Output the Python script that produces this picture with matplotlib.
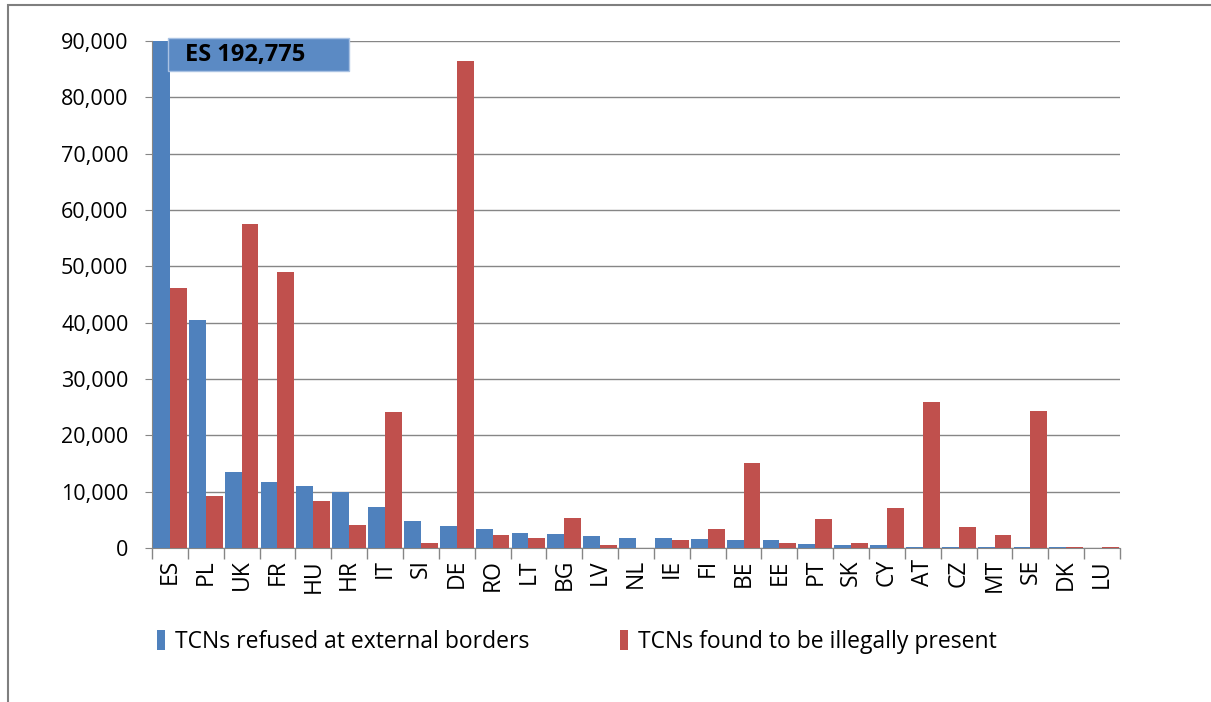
"""Refusals at external borders vs illegally present TCNs, by member state."""
import numpy as np
import matplotlib
matplotlib.use('Agg')
import matplotlib.pyplot as plt
from matplotlib.patches import Rectangle
from matplotlib.ticker import FuncFormatter, MultipleLocator

countries = ['ES', 'PL', 'UK', 'FR', 'HU', 'HR', 'IT', 'SI', 'DE', 'RO', 'LT',
             'BG', 'LV', 'NL', 'IE', 'FI', 'BE', 'EE', 'PT', 'SK', 'CY', 'AT',
             'CZ', 'MT', 'SE', 'DK', 'LU']
refused = [192775, 40500, 13500, 11700, 10950, 10000, 7300, 4800, 3900, 3450,
           2750, 2500, 2080, 1850, 1850, 1670, 1430, 1430, 710, 480, 480, 240,
           240, 240, 240, 240, 0]
illegal = [46200, 9300, 57500, 49000, 8300, 4100, 24100, 900, 86400, 2300,
           1850, 5250, 480, 0, 1430, 3450, 15100, 900, 5060, 900, 7140, 26000,
           3690, 2320, 24400, 240, 240]
label_refused = 'TCNs refused at external borders'
label_illegal = 'TCNs found to be illegally present'
callout = 'ES 192,775'

BLUE = '#4F81BD'
RED = '#C0504D'
GRID = '#868686'

plt.rcParams['font.family'] = ['Open Sans', 'DejaVu Sans']

fig = plt.figure(figsize=(12.11, 7.02), dpi=100)
ax = fig.add_axes([152 / 1211, 1 - 548 / 702, (1120 - 152) / 1211, (548 - 41) / 702])

x = np.arange(len(countries))
w = 0.47
ax.bar(x - w / 2, refused, w, color=BLUE, lw=0, label=label_refused, zorder=3)
ax.bar(x + w / 2, illegal, w, color=RED, lw=0, label=label_illegal, zorder=3)

ax.set_xlim(-0.5, len(countries) - 0.5)
ax.set_ylim(0, 90000)
ax.yaxis.set_major_locator(MultipleLocator(10000))
ax.yaxis.set_major_formatter(FuncFormatter(lambda v, p: '{:,.0f}'.format(v)))
ax.grid(axis='y', color=GRID, lw=1, zorder=0)

ax.set_xticks(x)
ax.set_xticklabels(countries, rotation=90)
ax.set_xticks(np.arange(len(countries) + 1) - 0.5, minor=True)
ax.tick_params(axis='x', which='major', length=0, labelsize=16.5, pad=8)
ax.tick_params(axis='x', which='minor', length=8, color=GRID, width=1)
ax.tick_params(axis='y', length=5, color=GRID, labelsize=15.5, pad=12)

for side in ('top', 'right'):
    ax.spines[side].set_visible(False)
for side in ('left', 'bottom'):
    ax.spines[side].set_color(GRID)

# callout box for the clipped ES bar
ax.add_patch(Rectangle((-0.05, 84700), 5.05, 5850, fc='#5B8AC4', ec='#A9C2E3',
                       lw=1, clip_on=False, zorder=5))
ax.text(0.42, 87550, callout, fontsize=17, fontweight='bold', color='black',
        ha='left', va='center', zorder=6)

fig.legend(loc='center left', bbox_to_anchor=(136 / 1211, 1 - 642 / 702),
           ncol=2, frameon=False, fontsize=16.5, handlelength=0.35,
           handleheight=1.0, handletextpad=0.45, columnspacing=3.95)

# outer frame of the original chart object
fig.patches.append(Rectangle((8 / 1211, -0.1), 1.2, 1.1 - 5 / 702,
                             transform=fig.transFigure, fill=False,
                             ec='#7F7F7F', lw=1.5))

fig.savefig('out.png', dpi=100)
plt.close(fig)
